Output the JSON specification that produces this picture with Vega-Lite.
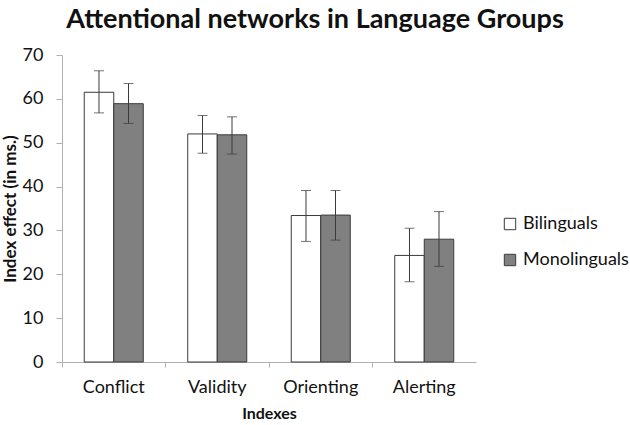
{
  "$schema": "https://vega.github.io/schema/vega-lite/v6.json",
  "autosize": "none",
  "width": 414,
  "height": 307,
  "padding": {"left": 62, "top": 55, "right": 154, "bottom": 63},
  "background": "white",
  "config": {
    "font": "Lato",
    "view": {"stroke": null},
    "axis": {"grid": false, "domainColor": "#b0b0b0", "tickColor": "#b0b0b0", "labelColor": "#111", "titleColor": "#111", "labelFont": "Lato", "titleFont": "Lato"}
  },
  "title": {
    "text": "Attentional networks in Language Groups",
    "fontSize": 27,
    "fontWeight": "bold",
    "font": "Lato",
    "color": "#111",
    "anchor": "middle",
    "dx": 46,
    "offset": 12
  },
  "data": {
    "values": [
      {"index": "Conflict", "group": "Bilinguals", "mean": 61.5, "lo": 56.8, "hi": 66.4},
      {"index": "Conflict", "group": "Monolinguals", "mean": 58.9, "lo": 54.4, "hi": 63.5},
      {"index": "Validity", "group": "Bilinguals", "mean": 52.0, "lo": 47.6, "hi": 56.2},
      {"index": "Validity", "group": "Monolinguals", "mean": 51.8, "lo": 47.4, "hi": 55.9},
      {"index": "Orienting", "group": "Bilinguals", "mean": 33.4, "lo": 27.5, "hi": 39.1},
      {"index": "Orienting", "group": "Monolinguals", "mean": 33.5, "lo": 27.8, "hi": 39.1},
      {"index": "Alerting", "group": "Bilinguals", "mean": 24.3, "lo": 18.3, "hi": 30.5},
      {"index": "Alerting", "group": "Monolinguals", "mean": 28.0, "lo": 21.8, "hi": 34.3}
    ]
  },
  "encoding": {
    "x": {
      "field": "index",
      "type": "nominal",
      "sort": ["Conflict", "Validity", "Orienting", "Alerting"],
      "scale": {"paddingInner": 0, "paddingOuter": 0},
      "axis": {
        "title": "Indexes",
        "titleFontSize": 16,
        "titleFontWeight": "bold",
        "titlePadding": 9,
        "labelAngle": 0,
        "labelFontSize": 18,
        "labelPadding": 11,
        "tickSize": 5,
        "bandPosition": 0
      }
    },
    "xOffset": {
      "field": "group",
      "type": "nominal",
      "scale": {"paddingInner": 0, "paddingOuter": 0.754}
    }
  },
  "layer": [
    {
      "mark": {"type": "bar", "stroke": "#3a3a3a", "strokeWidth": 1},
      "encoding": {
        "y": {
          "field": "mean",
          "type": "quantitative",
          "scale": {"domain": [0, 70]},
          "axis": {
            "title": "Index effect (in ms.)",
            "titleFontSize": 17,
            "titleFontWeight": "bold",
            "titlePadding": 3,
            "values": [0, 10, 20, 30, 40, 50, 60, 70],
            "labelFontSize": 18,
            "labelPadding": 13,
            "tickSize": 6
          }
        },
        "fill": {
          "field": "group",
          "type": "nominal",
          "scale": {"domain": ["Bilinguals", "Monolinguals"], "range": ["#ffffff", "#808080"]},
          "legend": {
            "title": null,
            "orient": "none",
            "legendX": 439,
            "legendY": 160,
            "symbolType": "square",
            "symbolSize": 130,
            "symbolStrokeColor": "#3a3a3a",
            "symbolStrokeWidth": 1,
            "labelFontSize": 18,
            "labelFont": "Lato",
            "labelColor": "#111",
            "rowPadding": 18,
            "labelOffset": 4
          }
        }
      }
    },
    {
      "mark": {"type": "rule", "color": "#3a3a3a", "strokeWidth": 1},
      "encoding": {
        "y": {"field": "lo", "type": "quantitative"},
        "y2": {"field": "hi"}
      }
    },
    {
      "mark": {"type": "tick", "color": "#3a3a3a", "thickness": 1, "size": 10},
      "encoding": {
        "y": {"field": "lo", "type": "quantitative"}
      }
    },
    {
      "mark": {"type": "tick", "color": "#3a3a3a", "thickness": 1, "size": 10},
      "encoding": {
        "y": {"field": "hi", "type": "quantitative"}
      }
    }
  ]
}
